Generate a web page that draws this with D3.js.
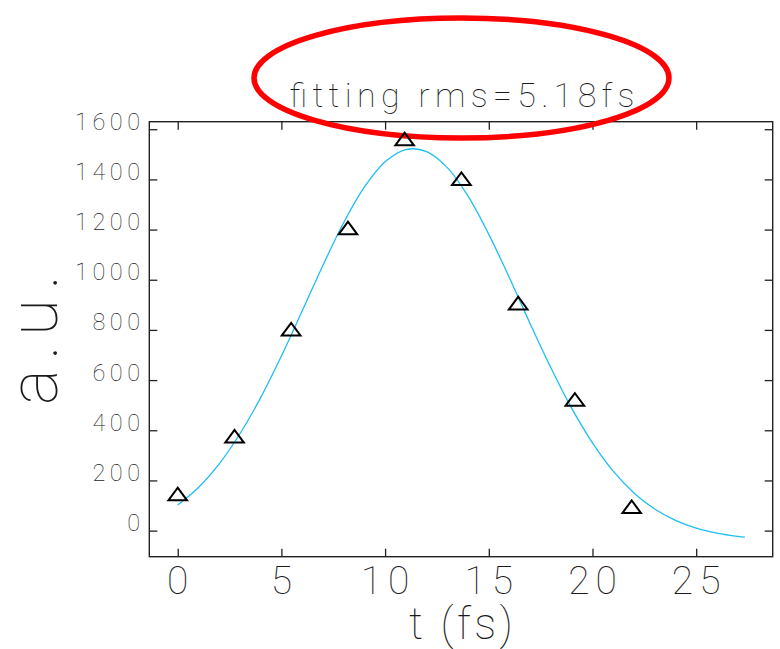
<!DOCTYPE html>
<html>
<head>
<meta charset="utf-8">
<script src="https://cdn.jsdelivr.net/npm/d3@7"></script>
<style>
  html, body { margin: 0; padding: 0; background: #fff; }
  svg { display: block; }
  text { font-family: Roboto, "DejaVu Sans", sans-serif; font-weight: 100; fill: #1a1a1a; }
</style>
</head>
<body>
<svg id="chart" width="780" height="649"></svg>
<script>
// Measured pulse samples: time (fs) and signal (a.u.)
const sampleTimes  = [0, 2.74, 5.47, 8.21, 10.94, 13.68, 16.42, 19.15, 21.89];
const sampleValues = [146, 376, 803, 1206, 1561, 1403, 907, 523, 95];

// Fitted profile, tabulated every 1 fs
const fitTimes  = [0, 1, 2, 3, 4, 5, 6, 7, 8, 9, 10, 11, 12, 13, 14, 15, 16, 17, 18, 19, 20, 21, 22, 23, 24, 25, 26, 27, 27.35];
const fitValues = [102, 172, 266, 386, 530, 696, 875, 1057, 1227, 1369, 1470, 1519, 1511, 1447, 1333, 1181, 1007, 824, 648, 487, 350, 237, 150, 86, 41, 10, -10, -23, -26];

const xTicks = [0, 5, 10, 15, 20, 25];
const yTicks = [0, 200, 400, 600, 800, 1000, 1200, 1400, 1600];

const titleText = "fitting rms=5.18fs";
const xLabel = "t (fs)";
const yLabel = "a.u.";

const svg = d3.select("#chart");

const x = d3.scaleLinear().domain([-1.37, 28.69]).range([149.3, 772.7]);
const y = d3.scaleLinear().domain([-104, 1630]).range([556.7, 121.7]);

const [x0, x1] = x.range();
const [y0, y1] = y.range();
const ink = "#222";

// Inward tick marks on all four sides
const tickLen = 8;
function styleAxis(g) {
  g.select(".domain").remove();
  g.selectAll(".tick line").attr("stroke", ink).attr("stroke-width", 1.3);
  g.selectAll(".tick text").remove();
}
svg.append("g").attr("transform", `translate(0,${y0})`)
  .call(d3.axisBottom(x).tickValues(xTicks).tickSize(-tickLen).tickFormat(""))
  .call(styleAxis);
svg.append("g").attr("transform", `translate(0,${y1})`)
  .call(d3.axisTop(x).tickValues(xTicks).tickSize(-tickLen).tickFormat(""))
  .call(styleAxis);
svg.append("g").attr("transform", `translate(${x0},0)`)
  .call(d3.axisLeft(y).tickValues(yTicks).tickSize(-tickLen).tickFormat(""))
  .call(styleAxis);
svg.append("g").attr("transform", `translate(${x1},0)`)
  .call(d3.axisRight(y).tickValues(yTicks).tickSize(-tickLen).tickFormat(""))
  .call(styleAxis);

// Plot frame
svg.append("rect")
  .attr("x", x0).attr("y", y1)
  .attr("width", x1 - x0).attr("height", y0 - y1)
  .attr("fill", "none").attr("stroke", ink).attr("stroke-width", 1.4);

// Fit curve
const fitLine = d3.line()
  .x((d, i) => x(fitTimes[i]))
  .y(d => y(d))
  .curve(d3.curveCatmullRom);
svg.append("path")
  .attr("d", fitLine(fitValues))
  .attr("fill", "none")
  .attr("stroke", "#1ebef4")
  .attr("stroke-width", 1.3);

// Highlight ring around the title
svg.append("ellipse")
  .attr("cx", 461.5).attr("cy", 78)
  .attr("rx", 207.5).attr("ry", 60)
  .attr("fill", "none")
  .attr("stroke", "#ff0000")
  .attr("stroke-width", 5.5);

// Open triangle markers
const tw = 9.3, th = 6.3;
svg.append("g").selectAll("path")
  .data(sampleValues)
  .join("path")
  .attr("d", (d, i) => {
    const cx = x(sampleTimes[i]), cy = y(d);
    return `M${cx - tw},${cy + th}L${cx},${cy - th}L${cx + tw},${cy + th}Z`;
  })
  .attr("fill", "none")
  .attr("stroke", "#000")
  .attr("stroke-width", 2)
  .attr("stroke-linejoin", "miter");

// Y tick labels
const yls = 4.5;
svg.append("g").selectAll("text")
  .data(yTicks)
  .join("text")
  .attr("x", 140 + yls)
  .attr("y", d => y(d) + 0.5)
  .attr("text-anchor", "end")
  .attr("font-size", 23.5)
  .attr("letter-spacing", yls)
  .text(d => d);

// X tick labels
const xls = 6;
svg.append("g").selectAll("text")
  .data(xTicks)
  .join("text")
  .attr("x", d => x(d) + xls / 2)
  .attr("y", 594.3)
  .attr("text-anchor", "middle")
  .attr("font-size", 39)
  .attr("letter-spacing", xls)
  .text(d => d);

// Title
svg.append("text")
  .attr("x", 462).attr("y", 107.3)
  .attr("text-anchor", "middle")
  .attr("font-size", 34)
  .attr("textLength", 345)
  .attr("lengthAdjust", "spacing")
  .text(titleText);

// Axis titles
svg.append("text")
  .attr("x", 461).attr("y", 639)
  .attr("text-anchor", "middle")
  .attr("font-size", 44)
  .attr("textLength", 104)
  .attr("lengthAdjust", "spacing")
  .text(xLabel);

svg.append("text")
  .attr("transform", "translate(57,340) rotate(-90)")
  .attr("text-anchor", "middle")
  .attr("font-size", 68)
  .attr("textLength", 130)
  .attr("lengthAdjust", "spacing")
  .text(yLabel);
</script>
</body>
</html>
